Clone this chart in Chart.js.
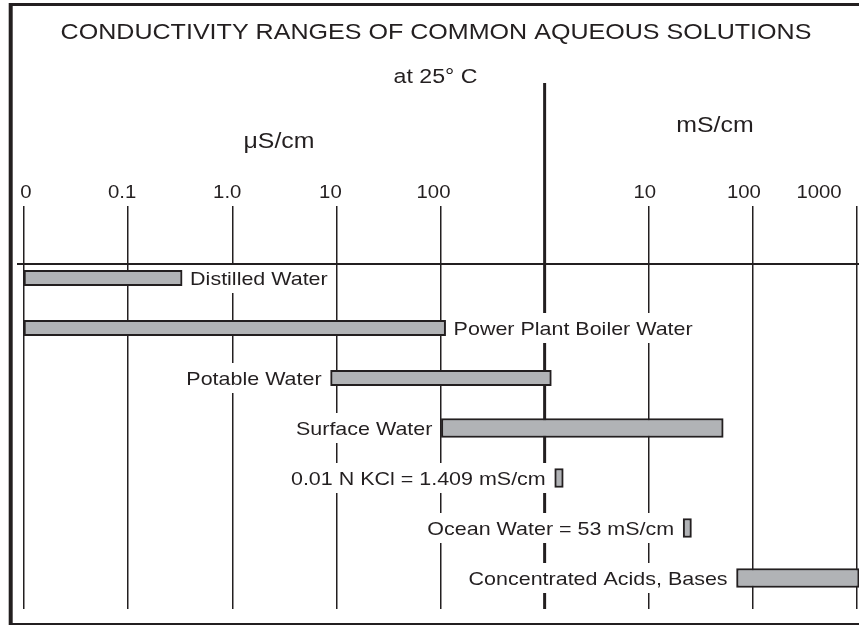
<!DOCTYPE html>
<html>
<head>
<meta charset="utf-8">
<style>
  html, body { margin: 0; padding: 0; background: #fff; }
  #wrap { width: 859px; height: 626px; }
</style>
<script src="https://cdn.jsdelivr.net/npm/chart.js@4.4.1/dist/chart.umd.min.js"></script>
</head>
<body>
<div id="wrap"><canvas id="chart" width="859" height="626"></canvas></div>
<script>
// conductivity ranges in uS/cm
const solutions = ['Distilled Water', 'Power Plant Boiler Water', 'Potable Water', 'Surface Water',
    '0.01 N KCl = 1.409 mS/cm', 'Ocean Water = 53 mS/cm', 'Concentrated Acids, Bases']
const rangeLow = [0.01, 0.01, 8.8, 102, 1250, 21400, 69700]
const rangeHigh = [0.33, 112, 1160, 51900, 1510, 25700, 1050000]

const decades = [0.01, 0.1, 1, 10, 100, 1000, 10000, 100000, 1000000]
const decadeLabels = ['0', '0.1', '1.0', '10', '100', '', '10', '100', '1000']

// styling only
const labelSide = ['right', 'right', 'left', 'left', 'left', 'left', 'left']
const tickLabelShift = [2, -6, -5, -6, -7, 0, -4, -9, -38]
const INK = '#231f20'
const FILL = '#b1b3b6'
const STRETCH = 1.13
const FONT = '"Liberation Sans", Arial, sans-serif'

// text is slightly wide in the original, so stretch it a bit
const drawText = (ctx, text, x, capMid, size, align) => {
    ctx.save()
    ctx.font = `${size}px ${FONT}`
    ctx.fillStyle = INK
    ctx.textBaseline = 'alphabetic'
    ctx.textAlign = align || 'center'
    ctx.translate(x, capMid + size * 0.358)
    ctx.scale(STRETCH, 1)
    ctx.fillText(text, 0, 0)
    ctx.restore()
}
const textWidth = (ctx, text, size) => {
    ctx.save()
    ctx.font = `${size}px ${FONT}`
    const w = ctx.measureText(text).width * STRETCH
    ctx.restore()
    return w
}

const rows = solutions.map((s, i) => ({ x: [rangeLow[i], rangeHigh[i]], y: i + 1 }))

const sheetPlugin = {
    id: 'sheet',
    beforeDatasetsDraw(chart) {
        const { ctx, chartArea, scales: { x } } = chart
        // uS / mS divider
        const xd = x.getPixelForValue(1000)
        ctx.save()
        ctx.strokeStyle = INK
        ctx.lineWidth = 3
        ctx.beginPath()
        ctx.moveTo(xd, 83)
        ctx.lineTo(xd, chartArea.bottom)
        ctx.stroke()
        ctx.restore()
    },
    afterDatasetsDraw(chart) {
        const { ctx, chartArea } = chart
        const size = 19
        chart.data.datasets.forEach((ds, d) => {
            const meta = chart.getDatasetMeta(d)
            meta.data.forEach((bar, j) => {
                const i = ds.data[j].y - 1
                const text = solutions[i]
                const w = textWidth(ctx, text, size)
                const lo = Math.min(bar.x, bar.base)
                const hi = Math.max(bar.x, bar.base)
                let tx, align, boxX
                if (labelSide[i] === 'right') {
                    tx = hi + 8
                    align = 'left'
                    boxX = tx - 3
                } else {
                    tx = lo - 9
                    align = 'right'
                    boxX = tx - w - 3
                }
                ctx.fillStyle = '#fff'
                ctx.fillRect(boxX, bar.y - 15, w + 6, 30)
                drawText(ctx, text, tx, bar.y, size, align)
            })
        })
        // horizontal axis line, on top of the label boxes
        ctx.save()
        ctx.strokeStyle = INK
        ctx.lineWidth = 2
        ctx.beginPath()
        ctx.moveTo(chartArea.left - 7, chartArea.top)
        ctx.lineTo(chart.width, chartArea.top)
        ctx.stroke()
        ctx.restore()
    },
    afterDraw(chart) {
        const { ctx, scales: { x } } = chart
        // frame
        ctx.save()
        ctx.strokeStyle = INK
        ctx.lineWidth = 4
        ctx.beginPath()
        ctx.moveTo(10.7, 3)
        ctx.lineTo(10.7, 625)
        ctx.stroke()
        ctx.lineWidth = 3
        ctx.beginPath()
        ctx.moveTo(9, 4.5)
        ctx.lineTo(chart.width, 4.5)
        ctx.stroke()
        ctx.lineWidth = 2
        ctx.beginPath()
        ctx.moveTo(9, 624)
        ctx.lineTo(chart.width, 624)
        ctx.stroke()
        ctx.restore()

        drawText(ctx, 'CONDUCTIVITY RANGES OF COMMON AQUEOUS SOLUTIONS', 436, 31.5, 22.2)
        drawText(ctx, 'at 25\u00b0 C', 435.5, 76, 20.5)
        drawText(ctx, '\u03bcS/cm', 279, 140, 22)
        drawText(ctx, 'mS/cm', 715, 124, 22)

        decades.forEach((v, i) => {
            if (!decadeLabels[i]) return
            drawText(ctx, decadeLabels[i], x.getPixelForValue(v) + tickLabelShift[i], 192, 18)
        })
    }
}

const barStyle = {
    backgroundColor: FILL,
    borderColor: INK,
    borderWidth: 2,
    borderSkipped: false,
    grouped: false,
    clip: false
}

const ctx = document.querySelector('#chart').getContext('2d')
const chart = new Chart(ctx, {
    type: 'bar',
    data: {
        datasets: [
            { ...barStyle, data: rows.slice(0, 3), barThickness: 15.5 },
            { ...barStyle, data: rows.slice(3), barThickness: 19 }
        ]
    },
    options: {
        indexAxis: 'y',
        responsive: false,
        animation: false,
        devicePixelRatio: 1,
        layout: { padding: { left: 24, right: 2, top: 0, bottom: 17 } },
        plugins: {
            legend: { display: false },
            tooltip: { enabled: false }
        },
        scales: {
            x: {
                type: 'logarithmic',
                position: 'top',
                min: 0.01,
                max: 1000000,
                afterBuildTicks: scale => {
                    scale.ticks = decades.map(v => ({ value: v }))
                },
                afterFit: scale => {
                    scale.height = 264
                },
                ticks: { display: false },
                border: { display: false },
                grid: {
                    color: INK,
                    lineWidth: 1.5,
                    drawTicks: true,
                    tickLength: 58
                }
            },
            y: {
                type: 'linear',
                min: 0.72,
                max: 7.62,
                offset: false,
                reverse: true,
                display: false
            }
        }
    },
    plugins: [sheetPlugin]
})
</script>
</body>
</html>
